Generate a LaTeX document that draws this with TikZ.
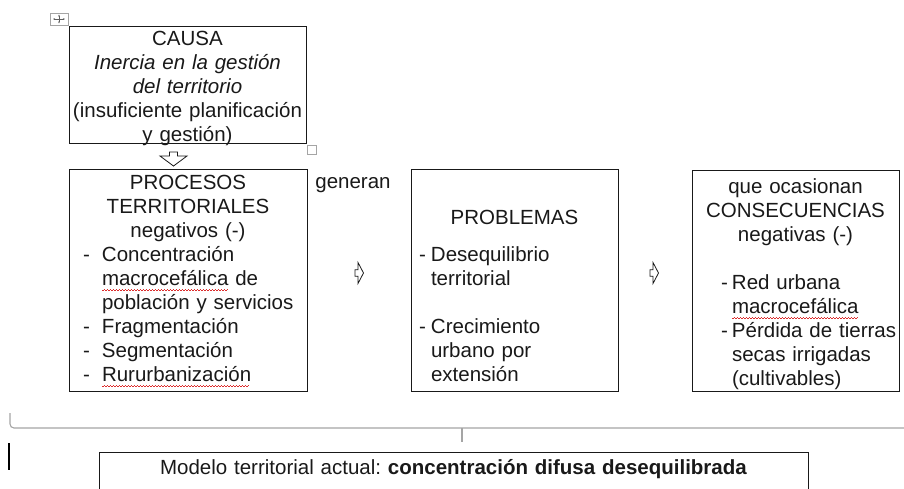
\documentclass[tikz,border=0pt]{standalone}
\usepackage{fontspec}
\setmainfont{Liberation Sans}
\usepackage{tikz}
\usetikzlibrary{arrows.meta}
\definecolor{Bcolor}{RGB}{25, 25, 25}
\definecolor{Gcolor}{RGB}{165, 165, 165}
\definecolor{Scolor}{RGB}{220, 45, 45}
\def\fontbox{\fontsize{20.5}{24}\selectfont}
\newcommand{\spellerr}[1]{\setbox0\hbox{#1}\rlap{\textcolor{Scolor}{\lower5pt\hbox to\wd0{\leaders\hbox{\rule{1.5pt}{0.7pt}\rule[1.2pt]{1.5pt}{0.7pt}}\hfill}}}#1}
\newcommand{\midline}[1]{\noindent\hbox to\hsize{\hss#1\hss}\par}
\newcommand{\dashline}[3]{\noindent\hspace*{#1}\makebox[#2][l]{-}#3\par}
\newcommand{\restline}[2]{\noindent\hspace*{#1}#2\par}

\begin{document}
\begin{tikzpicture}[x=1pt, y=-1pt,
    every node/.style={font=\fontbox, text=Bcolor},
    box/.style={draw=Bcolor, line width=1pt, inner xsep=0pt, inner ysep=0pt, anchor=north, align=left},
    hollow/.style={draw=Bcolor, line width=0.8pt, fill=white, line join=miter},
    brace/.style={draw=Gcolor, line width=1.1pt},
    handle/.style={draw=Gcolor, line width=0.8pt, fill=white, inner sep=0pt}]
    \useasboundingbox (0,0) rectangle (904,488);
    \clip (0,0) rectangle (904,488);
    % table handles
    \node[handle, minimum width=18pt, minimum height=12pt] (movebox) at (59,19) {};
    \draw[Bcolor!70, line width=0.6pt, {Stealth[length=2pt]}-{Stealth[length=2pt]}] ([xshift=-6pt]movebox.center) -- ([xshift=6pt]movebox.center);
    \draw[Bcolor!70, line width=0.6pt, {Stealth[length=2pt]}-{Stealth[length=2pt]}] ([yshift=-4.5pt]movebox.center) -- ([yshift=4.5pt]movebox.center);
    \node[handle, minimum width=9pt, minimum height=9pt] (sizebox) at (311.5,149.5) {};
    % CAUSA
    \node[box, text width=237pt, text height=19pt, text depth=98pt] (causa) at (187.5,26) {%
        \midline{CAUSA}\midline{\itshape Inercia en la gestión}\midline{\itshape del territorio}%
        \midline{(insuficiente planificación}\midline{y gestión)}};
    \coordinate (arrD) at (173.5,158);
    \draw[hollow, shift={(arrD)}] (-4,-6) -- (4,-6) -- (4,-2) -- (13.5,-2) -- (0,8) -- (-13.5,-2) -- (-4,-2) -- cycle;
    % PROCESOS
    \node[box, text width=238pt, text height=20pt, text depth=202pt] (procesos) at (188,169) {%
        \midline{PROCESOS}\midline{TERRITORIALES}\midline{negativos (-)}%
        \dashline{14pt}{19pt}{Concentración}%
        \restline{33pt}{\spellerr{macrocefálica} de}%
        \restline{33pt}{población y servicios}%
        \dashline{14pt}{19pt}{Fragmentación}%
        \dashline{14pt}{19pt}{Segmentación}%
        \dashline{14pt}{19pt}{\spellerr{Rururbanización}}};
    \node[anchor=base] (generan) at (353,188) {generan};
    \coordinate (arrA) at (359,273);
    \draw[hollow, shift={(arrA)}] (-4,-3.3) -- (-1,-3.3) -- (-1,-10.5) -- (4.5,0) -- (-1,10.5) -- (-1,3.3) -- (-4,3.3) -- cycle;
    % PROBLEMAS
    \node[box, text width=207pt, text height=55pt, text depth=167pt] (problemas) at (514.5,169) {%
        \midline{PROBLEMAS}\vspace{13pt}%
        \dashline{8pt}{12pt}{Desequilibrio}%
        \restline{20pt}{territorial}\vspace{24pt}%
        \dashline{8pt}{12pt}{Crecimiento}%
        \restline{20pt}{urbano por}%
        \restline{20pt}{extensión}};
    \coordinate (arrB) at (654,273);
    \draw[hollow, shift={(arrB)}] (-4,-3.3) -- (-1,-3.3) -- (-1,-10.5) -- (4.5,0) -- (-1,10.5) -- (-1,3.3) -- (-4,3.3) -- cycle;
    % CONSECUENCIAS
    \node[box, text width=207pt, text height=23pt, text depth=198pt] (consec) at (795.5,170) {%
        \midline{que ocasionan}\midline{CONSECUENCIAS}\midline{negativas (-)}\vspace{24pt}%
        \dashline{29pt}{11pt}{Red urbana}%
        \restline{40pt}{\spellerr{macrocefálica}}%
        \dashline{29pt}{11pt}{Pérdida de tierras}%
        \restline{40pt}{secas irrigadas}%
        \restline{40pt}{(cultivables)}};
    % brace
    \draw[brace, rounded corners=4pt] (10,413) -- (10,428) -- (904,428);
    \coordinate (braceM) at (462,428);
    \draw[brace] (braceM) -- ++(0,14);
    \coordinate (caretT) at (9,443);
    \coordinate (caretB) at (9,470);
    \draw[line width=1.3pt, black] (caretT) -- (caretB);
    % modelo actual
    \node[box, text width=709pt, text height=22pt, text depth=60pt] (modelo) at (453.5,452) {%
        \midline{Modelo territorial actual:\ \textbf{concentración difusa desequilibrada}}};
\end{tikzpicture}
\end{document}
